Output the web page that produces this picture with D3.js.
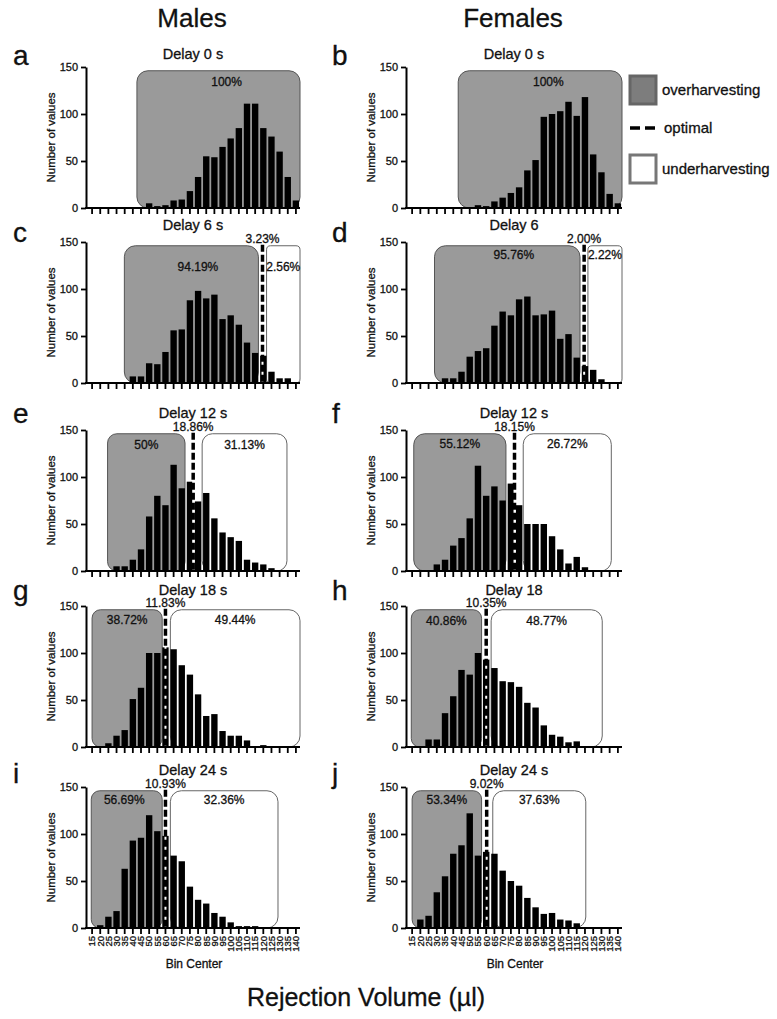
<!DOCTYPE html>
<html><head><meta charset="utf-8">
<script src="https://cdn.jsdelivr.net/npm/d3@7/dist/d3.min.js"></script>
<style>
body{margin:0;background:#fff}
svg{display:block}
text{font-family:"Liberation Sans",Arial,Helvetica,sans-serif;fill:#111;stroke:#111;stroke-width:0.3px}
</style>
</head><body>
<svg id="chart" width="777" height="1019"></svg>
<script>
// ---------- DATA ----------
const binLabels = ["15","20","25","30","35","40","45","50","55","60","65","70","75","80","85","90","95","100","105","110","115","120","125","130","135","140"];
const binValues = [15,20,25,30,35,40,45,50,55,60,65,70,75,80,85,90,95,100,105,110,115,120,125,130,135,140];
const yTickValues = [0,50,100,150];

const panelLetters = ["a","b","c","d","e","f","g","h","i","j"];
const panelTitles = ["Delay 0 s","Delay 0 s","Delay 6 s","Delay 6","Delay 12 s","Delay 12 s","Delay 18 s","Delay 18","Delay 24 s","Delay 24 s"];
const columnTitles = ["Males","Females"];

const countsM0  = [0,0,0,0,0,0,0,5,2,3,8,9,18,33,55,54,65,74,85,111,111,85,76,60,33,8];
const countsF0  = [0,0,0,0,0,0,0,0,3,2,7,11,16,22,40,51,97,100,103,113,98,118,57,38,15,5];
const countsM6  = [0,0,0,0,0,7,7,21,20,33,56,57,88,98,90,94,68,72,62,43,32,29,12,5,5,0];
const countsF6  = [0,0,0,0,5,5,12,28,34,37,61,76,72,89,92,72,73,77,47,52,27,18,14,4,1,1];
const countsM12 = [0,0,0,5,5,12,23,58,80,70,113,88,95,74,83,56,41,36,32,12,9,7,3,0,0,0];
const countsF12 = [0,0,0,7,12,27,35,56,112,80,90,75,93,70,50,50,50,37,23,8,15,4,0,0,0,0];
const countsM18 = [0,1,4,12,18,51,63,100,100,106,104,87,77,56,33,35,17,12,12,7,1,2,0,0,1,0];
const countsF18 = [0,0,8,8,36,54,82,77,100,93,84,70,69,64,47,42,23,13,11,5,6,1,1,0,0,0];
const countsM24 = [0,3,12,18,63,93,96,120,103,98,77,71,44,30,26,16,12,6,2,2,2,0,1,0,0,0];
const countsF24 = [0,9,13,38,55,79,88,122,77,81,79,61,50,45,32,22,15,16,9,8,5,0,0,0,0,0];
const panelCounts = [countsM0,countsF0,countsM6,countsF6,countsM12,countsF12,countsM18,countsF18,countsM24,countsF24];

// region limits in µl (over = overharvesting, under = underharvesting), optimal volume
const overRange  = [[42.5,142.5],[43,142.5],[34.8,117],[28.6,117],[24.5,72],[16,72],[15,58],[14.5,57.2],[14.5,58],[15,57.2]];
const optimalVol = [null,null,119.5,119.5,77,77.2,60,60,60,60.3];
const underRange = [null,null,[122,142.5],[121.8,142.5],[82.5,134.5],[82.5,136],[63,142.5],[63,130.5],[63,129],[64,120.5]];
const overPct  = ["100%","100%","94.19%","95.76%","50%","55.12%","38.72%","40.86%","56.69%","53.34%"];
const optPct   = [null,null,"3.23%","2.00%","18.86%","18.15%","11.83%","10.35%","10.93%","9.02%"];
const underPct = [null,null,"2.56%","2.22%","31.13%","26.72%","49.44%","48.77%","32.36%","37.63%"];
const regionTop = 146;

const legendItems = ["overharvesting","optimal","underharvesting"];

// ---------- LAYOUT ----------
const colX = [[88,300],[408,622]];
const rowY = [[67,208],[242,383],[430,571],[606,747],[787,928]];
const titleGap = [8,12,12,11,12];
const letterBase = [65,242,423,600,783];
const letterX = [13,332];
const pctLevel = [134,134,124,136,134,135,135,134,136,136];
const overLabelShift = [5,5,4,4,0,0,0,0,-1.5,0];

const svg = d3.select("#chart");

// column titles
columnTitles.forEach((t,c)=>{
  svg.append("text").attr("x",(colX[c][0]+colX[c][1])/2 - 2).attr("y",27)
    .attr("text-anchor","middle").attr("font-size",26).text(t);
});

panelCounts.forEach((counts,p)=>{
  const c = p%2, r = Math.floor(p/2);
  const [x0,x1] = colX[c];
  const [yTop,yBot] = rowY[r];
  const g = svg.append("g");

  const xb = d3.scaleBand().domain(binLabels).range([x0,x1]).paddingInner(0.22).paddingOuter(0.11);
  const xl = d3.scaleLinear().domain([binValues[0]-2.5, binValues[binValues.length-1]+2.5]).range([x0,x1]);
  const y = d3.scaleLinear().domain([0,150]).range([yBot,yTop]);

  // regions
  const addBox = (rng, fill, stroke) => {
    const w = xl(rng[1]) - xl(rng[0]);
    g.append("rect").attr("x",xl(rng[0])).attr("y",y(regionTop))
      .attr("width",w).attr("height",y(0)-y(regionTop))
      .attr("rx",Math.min(11,w*0.12)).attr("ry",Math.min(11,w*0.12))
      .attr("fill",fill).attr("stroke",stroke).attr("stroke-width",1);
  };
  addBox(overRange[p], "#9a9a9a", "#555");
  if (underRange[p]) addBox(underRange[p], "#fff", "#666");

  // bars
  g.selectAll("rect.bar").data(counts).join("rect").attr("class","bar")
    .attr("x",(d,i)=>xb(binLabels[i])).attr("width",xb.bandwidth())
    .attr("y",d=>y(d)).attr("height",d=>y(0)-y(d)).attr("fill","#000");

  // optimal dashed line
  if (optimalVol[p] !== null) {
    const xo = xl(optimalVol[p]);
    g.append("line").attr("x1",xo).attr("x2",xo).attr("y1",y(0)).attr("y2",y(regionTop+1))
      .attr("stroke","#fff").attr("stroke-width",2);
    g.append("line").attr("x1",xo).attr("x2",xo).attr("y1",y(regionTop+1)).attr("y2",y(0))
      .attr("stroke","#000").attr("stroke-width",3.5).attr("stroke-dasharray","7,3");
  }

  // axes
  const bottomRow = r === rowY.length-1;
  const xAxis = d3.axisBottom(xb).tickSize(6).tickSizeOuter(0).tickPadding(3)
    .tickFormat(bottomRow ? (d=>d) : (()=>""));
  const gx = g.append("g").attr("transform",`translate(0,${y(0)})`).call(xAxis);
  gx.select(".domain").attr("stroke","#000").attr("stroke-width",2).attr("d",`M${x0-3},0H${x1}`);
  gx.selectAll(".tick line").attr("stroke","#000").attr("stroke-width",1.8);
  if (bottomRow) {
    gx.selectAll(".tick text").attr("font-size",9.5).attr("transform","rotate(-90)")
      .attr("text-anchor","end").attr("x",-8).attr("y",0).attr("dy","0.35em")
      .attr("font-family","Liberation Sans, Arial, sans-serif").attr("fill","#111")
      .attr("stroke","#111").attr("stroke-width",0.3);
    g.append("text").attr("x",(x0+x1)/2).attr("y",y(0)+40).attr("text-anchor","middle")
      .attr("font-size",12).text("Bin Center");
  }
  const yAxis = d3.axisLeft(y).tickValues(yTickValues).tickSize(5).tickSizeOuter(0).tickPadding(3);
  const gy = g.append("g").attr("transform",`translate(${x0-2},0)`).call(yAxis);
  gy.select(".domain").attr("stroke","#000").attr("stroke-width",2);
  gy.selectAll(".tick line").attr("stroke","#000").attr("stroke-width",1.8);
  gy.selectAll(".tick text").attr("font-size",11).attr("fill","#111")
    .attr("font-family","Liberation Sans, Arial, sans-serif").attr("stroke","#111").attr("stroke-width",0.3);

  g.append("text").attr("transform",`translate(${x0-37},${(yTop+yBot)/2}) rotate(-90)`)
    .attr("text-anchor","middle").attr("dy","0.35em").attr("font-size",11.5).text("Number of values");

  // title & letter
  g.append("text").attr("x",(x0+x1)/2 - 1).attr("y",yTop-titleGap[r]).attr("text-anchor","middle")
    .attr("font-size",14.5).text(panelTitles[p]);
  g.append("text").attr("x",letterX[c]).attr("y",letterBase[r]).attr("font-size",28).text(panelLetters[p]);

  // percentages
  const lv = y(pctLevel[p]);
  g.append("text").attr("x",(xl(overRange[p][0])+xl(overRange[p][1]))/2 + (xl(overLabelShift[p])-xl(0)))
    .attr("y",lv).attr("text-anchor","middle").attr("dy","0.35em").attr("font-size",12).text(overPct[p]);
  if (underRange[p]) {
    g.append("text").attr("x",(xl(underRange[p][0])+xl(underRange[p][1]))/2).attr("y",lv)
      .attr("text-anchor","middle").attr("dy","0.35em").attr("font-size",12).text(underPct[p]);
  }
  if (optPct[p]) {
    g.append("text").attr("x",xl(optimalVol[p])).attr("y",y(153))
      .attr("text-anchor","middle").attr("dy","0.35em").attr("font-size",12).text(optPct[p]);
  }
});

// legend
const lg = svg.append("g");
lg.append("rect").attr("x",630).attr("y",76).attr("width",26).attr("height",28)
  .attr("fill","#7d7d7d").attr("stroke","#666").attr("stroke-width",3);
lg.append("line").attr("x1",630).attr("x2",656).attr("y1",128).attr("y2",128)
  .attr("stroke","#000").attr("stroke-width",3.5).attr("stroke-dasharray","10,5");
lg.append("rect").attr("x",630).attr("y",155).attr("width",26).attr("height",28)
  .attr("fill","#fff").attr("stroke","#777").attr("stroke-width",3);
[90,128,169].forEach((yy,i)=>{
  lg.append("text").attr("x",i===1?664:662).attr("y",yy).attr("dy","0.35em")
    .attr("font-size",15).text(legendItems[i]);
});

svg.append("text").attr("x",366).attr("y",1006).attr("text-anchor","middle")
  .attr("font-size",25).text("Rejection Volume (\u00B5l)");
</script>
</body></html>
